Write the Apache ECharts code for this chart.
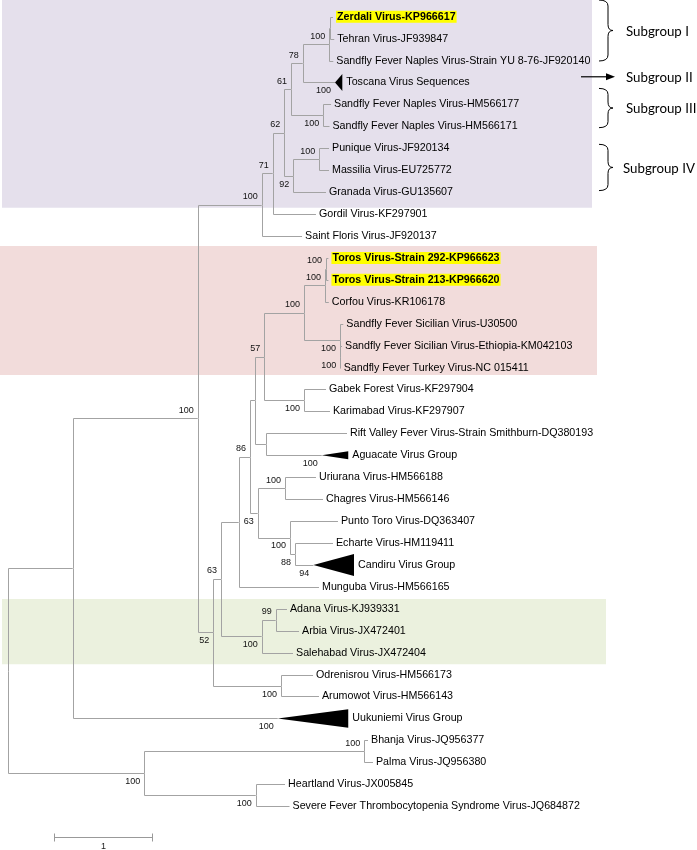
<!DOCTYPE html>
<html>
<head>
<meta charset="utf-8">
<script src="https://cdn.jsdelivr.net/npm/echarts@6/dist/echarts.min.js"></script>
<style>
  html, body { margin: 0; padding: 0; background: #fff; }
  #tree { width: 697px; height: 850px; }
</style>
</head>
<body>
<div id="tree"></div>
<script>
// taxa, top to bottom (one row each)
var taxa = [
  'Zerdali Virus-KP966617', 'Tehran Virus-JF939847', 'Sandfly Fever Naples Virus-Strain YU 8-76-JF920140',
  'Toscana Virus Sequences', 'Sandfly Fever Naples Virus-HM566177', 'Sandfly Fever Naples Virus-HM566171',
  'Punique Virus-JF920134', 'Massilia Virus-EU725772', 'Granada Virus-GU135607', 'Gordil Virus-KF297901',
  'Saint Floris Virus-JF920137', 'Toros Virus-Strain 292-KP966623', 'Toros Virus-Strain 213-KP966620',
  'Corfou Virus-KR106178', 'Sandfly Fever Sicilian Virus-U30500', 'Sandfly Fever Sicilian Virus-Ethiopia-KM042103',
  'Sandfly Fever Turkey Virus-NC 015411', 'Gabek Forest Virus-KF297904', 'Karimabad Virus-KF297907',
  'Rift Valley Fever Virus-Strain Smithburn-DQ380193', 'Aguacate Virus Group', 'Uriurana Virus-HM566188',
  'Chagres Virus-HM566146', 'Punto Toro Virus-DQ363407', 'Echarte Virus-HM119411', 'Candiru Virus Group',
  'Munguba Virus-HM566165', 'Adana Virus-KJ939331', 'Arbia Virus-JX472401', 'Salehabad Virus-JX472404',
  'Odrenisrou Virus-HM566173', 'Arumowot Virus-HM566143', 'Uukuniemi Virus Group', 'Bhanja Virus-JQ956377',
  'Palma Virus-JQ956380', 'Heartland Virus-JX005845', 'Severe Fever Thrombocytopenia Syndrome Virus-JQ684872'
];
var taxaParent = ['AZ', 'AZ', 'A', 'B', 'D', 'D', 'G', 'G', 'F', 'H', 'I', 'TT', 'TT', 'TC', 'SS', 'SS2', 'SS2',
  'GK', 'GK', 'T', 'T', 'X', 'X', 'Y', 'Z', 'Z', 'W', 'AA', 'AA', 'O', 'M', 'M', 'N1', 'N3', 'N3', 'N4', 'N4'];
// distance from root (substitutions/site)
var taxaDepth = [3.337, 3.350, 3.340, 3.358, 3.317, 3.301, 3.296, 3.296, 3.265, 3.162, 3.019, 3.290, 3.290,
  3.294, 3.443, 3.430, 3.416, 3.265, 3.306, 3.481, 3.221, 3.162, 3.234, 3.388, 3.337, 3.135, 3.193, 2.864,
  2.988, 2.926, 3.132, 3.193, 2.769, 3.697, 3.748, 2.844, 2.890];
// collapsed clades: bootstrap and depth of the triangle base
var collapsedName = ['Toscana Virus Sequences', 'Aguacate Virus Group', 'Candiru Virus Group', 'Uukuniemi Virus Group'];
var collapsedSupport = [100, 100, 94, 100];
var collapsedBase = [3.433, 3.494, 3.553, 3.494];
var highlighted = ['Zerdali Virus-KP966617', 'Toros Virus-Strain 292-KP966623', 'Toros Virus-Strain 213-KP966620'];

// internal nodes (parents listed before children)
var nodeId = ['R', 'N1', 'J', 'I', 'H', 'E', 'C', 'B', 'A', 'AZ', 'D', 'F', 'G', 'K', 'L', 'W', 'U', 'S', 'Q',
  'SC', 'TC', 'TT', 'SS', 'SS2', 'GK', 'T', 'V', 'X', 'Y', 'Z', 'O', 'AA', 'M', 'N2', 'N3', 'N4'];
var nodeParent = [null, 'R', 'N1', 'J', 'I', 'H', 'E', 'C', 'B', 'A', 'C', 'E', 'F', 'J', 'K', 'L', 'W', 'U', 'S',
  'Q', 'SC', 'TC', 'SC', 'SS', 'Q', 'S', 'U', 'V', 'V', 'Y', 'L', 'O', 'K', 'R', 'N2', 'N2'];
var nodeDepth = [0, 0.662, 1.947, 2.604, 2.717, 2.837, 2.905, 3.026, 3.299, 3.305, 3.237, 2.929, 3.196, 2.107,
  2.186, 2.368, 2.484, 2.535, 2.631, 3.039, 3.255, 3.265, 3.409, 3.412, 3.039, 2.648, 2.563, 2.844, 2.895,
  2.947, 2.604, 2.748, 2.803, 1.398, 3.659, 2.543];
var nodeSupport = [0, 0, 100, 100, 71, 62, 61, 78, 100, 0, 100, 92, 100, 52, 63, 0, 86, 0, 57, 100, 100, 100,
  100, 100, 100, 0, 63, 100, 100, 88, 100, 99, 100, 100, 100, 100];
var supportBelow = ['D', 'F', 'K', 'SS', 'SS2', 'GK', 'V', 'Y', 'Z', 'O', 'M', 'N2', 'N4'];

var subgroupName = ['Subgroup I', 'Subgroup II', 'Subgroup III', 'Subgroup IV'];
var subgroupFrom = [-0.76, 2.74, 3.27, 5.82];
var subgroupTo = [2.02, 2.74, 5.06, 7.93];

var bandFrom = [-0.76, 10.46, 26.55];
var bandTo = [8.71, 16.34, 29.53];

var scaleBarStart = 0.473, scaleBarRow = 37.4, scaleBarLength = 1;

// styles
var lineColor = '#a3a3a3';
var bandColor = ['#e5e0ec', '#f2dcdb', '#ebf1de'];
var bandLeftPx = [2, 0, 2], bandRightPx = [592, 597, 606];
var triHalfPx = [8.5, 4, 11, 9.2];
var FONT = '"Liberation Sans", Arial, sans-serif';

// layout of the tree
var yOf = {}, xOf = {};
taxa.forEach(function (t, i) { yOf[t] = i; xOf[t] = taxaDepth[i]; });
nodeId.forEach(function (n, i) { xOf[n] = nodeDepth[i]; });
for (var i = nodeId.length - 1; i >= 0; i--) {
  var id = nodeId[i], ys = [];
  taxa.forEach(function (t, j) { if (taxaParent[j] === id) ys.push(yOf[t]); });
  nodeId.forEach(function (n, j) { if (nodeParent[j] === id) ys.push(yOf[n]); });
  yOf[id] = (Math.min.apply(null, ys) + Math.max.apply(null, ys)) / 2;
}

var edgeData = [];
taxa.forEach(function (t, i) {
  var p = taxaParent[i];
  edgeData.push([xOf[p], yOf[p], xOf[t], yOf[t]]);
});
nodeId.forEach(function (n, i) {
  var p = nodeParent[i];
  if (p) edgeData.push([xOf[p], yOf[p], xOf[n], yOf[n]]);
});

var triData = collapsedName.map(function (n, i) { return [xOf[n], collapsedBase[i], yOf[n]]; });

var leafData = taxa.map(function (t, i) {
  var k = collapsedName.indexOf(t);
  return [k >= 0 ? collapsedBase[k] : taxaDepth[i], i];
});

var supData = [], supBelow = [];
nodeId.forEach(function (n, i) {
  if (nodeSupport[i]) {
    supData.push([xOf[n], yOf[n], nodeSupport[i]]);
    supBelow.push(supportBelow.indexOf(n) >= 0);
  }
});
collapsedName.forEach(function (n, i) {
  supData.push([xOf[n], yOf[n], collapsedSupport[i]]);
  supBelow.push(true);
});

function crisp(v) { return Math.round(v) + 0.5; }

var chart = echarts.init(document.getElementById('tree'));
chart.setOption({
  animation: false,
  grid: { left: 0, right: 0, top: 0, bottom: 0 },
  xAxis: { type: 'value', min: -0.0853, max: 7.078, show: false },
  yAxis: { type: 'value', inverse: true, min: -0.7615, max: 38.0, show: false },
  series: [
    {
      // coloured boxes behind groups
      type: 'custom', silent: true, z: 1,
      data: bandFrom.map(function (f, i) { return [f, bandTo[i]]; }),
      renderItem: function (params, api) {
        var i = params.dataIndex;
        var a = api.coord([0, api.value(0)]), b = api.coord([0, api.value(1)]);
        return {
          type: 'rect',
          shape: { x: bandLeftPx[i], y: a[1], width: bandRightPx[i] - bandLeftPx[i], height: b[1] - a[1] },
          style: { fill: bandColor[i] }
        };
      }
    },
    {
      // branches
      type: 'custom', silent: true, z: 2,
      data: edgeData,
      renderItem: function (params, api) {
        var p = api.coord([api.value(0), api.value(1)]);
        var c = api.coord([api.value(2), api.value(3)]);
        var px = crisp(p[0]), py = crisp(p[1]), cy = crisp(c[1]);
        return {
          type: 'polyline',
          shape: { points: [[px, py], [px, cy], [c[0], cy]] },
          style: { stroke: lineColor, lineWidth: 1, fill: null }
        };
      }
    },
    {
      // collapsed clades
      type: 'custom', silent: true, z: 3,
      data: triData,
      renderItem: function (params, api) {
        var h = triHalfPx[params.dataIndex];
        var t = api.coord([api.value(0), api.value(2)]);
        var b = api.coord([api.value(1), api.value(2)]);
        return {
          type: 'polygon',
          shape: { points: [[t[0], t[1]], [b[0], b[1] - h], [b[0], b[1] + h]] },
          style: { fill: '#000' }
        };
      }
    },
    {
      // taxon names
      type: 'custom', silent: true, z: 4,
      data: leafData,
      renderItem: function (params, api) {
        var name = taxa[params.dataIndex];
        var tri = collapsedName.indexOf(name) >= 0;
        var hl = highlighted.indexOf(name) >= 0;
        var p = api.coord([api.value(0), api.value(1)]);
        var style = {
          text: name, x: p[0] + (tri ? 4 : 3), y: p[1],
          font: (hl ? 'bold ' : '') + '10.7px ' + FONT,
          fill: '#000', align: 'left', verticalAlign: 'middle'
        };
        if (hl) { style.backgroundColor = '#ffff00'; style.padding = [1, 1, 0, 1]; }
        return { type: 'text', style: style };
      }
    },
    {
      // bootstrap values
      type: 'custom', silent: true, z: 4,
      data: supData,
      renderItem: function (params, api) {
        var p = api.coord([api.value(0), api.value(1)]);
        var below = supBelow[params.dataIndex];
        return {
          type: 'text',
          style: {
            text: String(api.value(2)), x: p[0] - 4, y: p[1] + (below ? 8.5 : -8),
            font: '9px ' + FONT, fill: '#111', align: 'right', verticalAlign: 'middle'
          }
        };
      }
    },
    {
      // scale bar
      type: 'custom', silent: true, z: 4,
      data: [[scaleBarStart, scaleBarRow, scaleBarLength]],
      renderItem: function (params, api) {
        var a = api.coord([api.value(0), api.value(1)]);
        var b = api.coord([api.value(0) + api.value(2), api.value(1)]);
        var y = crisp(a[1]), x0 = crisp(a[0]), x1 = crisp(b[0]);
        var ls = { stroke: '#999', lineWidth: 1 };
        return {
          type: 'group',
          children: [
            { type: 'line', shape: { x1: x0, y1: y, x2: x1, y2: y }, style: ls },
            { type: 'line', shape: { x1: x0, y1: y - 4, x2: x0, y2: y + 4 }, style: ls },
            { type: 'line', shape: { x1: x1, y1: y - 4, x2: x1, y2: y + 4 }, style: ls },
            { type: 'text', style: { text: String(api.value(2)), x: (x0 + x1) / 2, y: y + 9,
              font: '9px ' + FONT, fill: '#222', align: 'center', verticalAlign: 'middle' } }
          ]
        };
      }
    },
    {
      // subgroup braces and arrow
      type: 'custom', silent: true, z: 4,
      data: subgroupFrom.map(function (f, i) { return [f, subgroupTo[i]]; }),
      renderItem: function (params, api) {
        var top = api.coord([0, api.value(0)])[1];
        var bot = api.coord([0, api.value(1)])[1];
        var mid = (top + bot) / 2;
        var kids = [];
        if (bot - top < 1) {
          kids.push({ type: 'line', shape: { x1: 581, y1: mid, x2: 608, y2: mid }, style: { stroke: '#000', lineWidth: 1.2 } });
          kids.push({ type: 'polygon', shape: { points: [[615, mid], [606, mid - 3.5], [606, mid + 3.5]] }, style: { fill: '#000' } });
        } else {
          var x0 = 599, x1 = 608, x2 = 613, r = 6;
          var d = 'M' + x0 + ' ' + top + ' Q' + x1 + ' ' + top + ' ' + x1 + ' ' + (top + r) +
            ' L' + x1 + ' ' + (mid - r) + ' Q' + x1 + ' ' + mid + ' ' + x2 + ' ' + mid +
            ' Q' + x1 + ' ' + mid + ' ' + x1 + ' ' + (mid + r) +
            ' L' + x1 + ' ' + (bot - r) + ' Q' + x1 + ' ' + bot + ' ' + x0 + ' ' + bot;
          kids.push({ type: 'path', shape: { pathData: d }, style: { stroke: '#000', lineWidth: 1, fill: null } });
        }
        kids.push({ type: 'text', style: { text: subgroupName[params.dataIndex], x: params.dataIndex === 3 ? 623 : 626,
          y: mid + 1, font: '13.3px Lato, "Open Sans", sans-serif', fill: '#000', align: 'left', verticalAlign: 'middle' } });
        return { type: 'group', children: kids };
      }
    }
  ]
});
</script>
</body>
</html>
